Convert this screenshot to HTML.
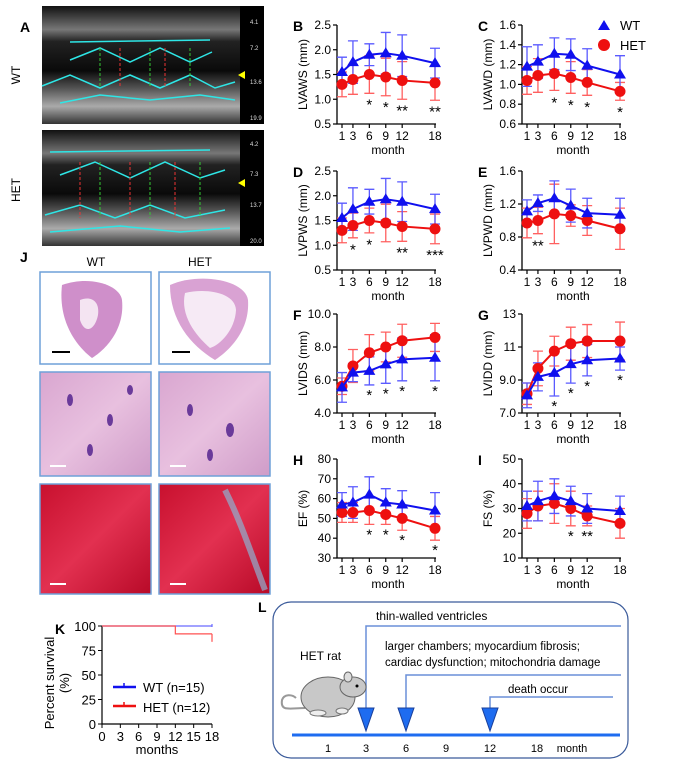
<!DOCTYPE html>
<html><head><meta charset="utf-8">
<style>
html,body{margin:0;padding:0;background:#fff;}
body{width:697px;height:779px;overflow:hidden;position:relative;font-family:"Liberation Sans",Arial,sans-serif;}
svg{position:absolute;left:0;top:0;}
</style></head>
<body>
<svg id="fig" width="697" height="779" viewBox="0 0 697 779" font-family="Liberation Sans, Arial, sans-serif">
  <defs>
    <linearGradient id="echo" x1="0" y1="0" x2="0" y2="1">
      <stop offset="0" stop-color="#111"/><stop offset="0.2" stop-color="#777"/><stop offset="0.3" stop-color="#222"/>
      <stop offset="0.55" stop-color="#0a0a0a"/><stop offset="0.7" stop-color="#555"/><stop offset="0.85" stop-color="#aaa"/><stop offset="1" stop-color="#333"/>
    </linearGradient>
    <linearGradient id="he" x1="0" y1="0" x2="1" y2="1">
      <stop offset="0" stop-color="#d9a6d0"/><stop offset="0.5" stop-color="#e8c0df"/><stop offset="1" stop-color="#cf9cc8"/>
    </linearGradient>
    <linearGradient id="mt" x1="0" y1="0" x2="1" y2="1">
      <stop offset="0" stop-color="#c8102e"/><stop offset="0.5" stop-color="#e23050"/><stop offset="1" stop-color="#b80a28"/>
    </linearGradient>
  </defs>

  <!-- Panel A -->
  <text x="20" y="32" font-size="14" font-weight="bold">A</text>
  <g>
    <rect x="42" y="6" width="222" height="118" fill="url(#echo)"/>
    <rect x="240" y="6" width="24" height="118" fill="#000"/>
    <polyline points="42,86 70,75 100,88 130,75 160,88 190,75 215,88 235,82" fill="none" stroke="#2ee6e6" stroke-width="1.5"/>
    <polyline points="70,42 210,40" fill="none" stroke="#2ee6e6" stroke-width="1.5"/>
    <polyline points="70,60 100,48 130,62 160,48 190,62 212,52" fill="none" stroke="#2ee6e6" stroke-width="1.5"/>
    <polyline points="60,103 100,95 150,100 200,95 235,100" fill="none" stroke="#2ee6e6" stroke-width="1.5"/>
    <g stroke-dasharray="3,2" stroke-width="1">
      <line x1="100" y1="48" x2="100" y2="88" stroke="#3c3"/><line x1="120" y1="48" x2="120" y2="88" stroke="#e33"/>
      <line x1="150" y1="48" x2="150" y2="88" stroke="#3c3"/><line x1="165" y1="48" x2="165" y2="88" stroke="#e33"/>
      <line x1="190" y1="48" x2="190" y2="88" stroke="#3c3"/>
    </g>
    <text x="250" y="24" font-size="6" fill="#ddd">4.1</text><text x="250" y="50" font-size="6" fill="#ddd">7.2</text>
    <text x="250" y="84" font-size="6" fill="#ddd">13.6</text><text x="250" y="120" font-size="6" fill="#ddd">19.9</text>
    <polygon points="238,75 245,71 245,79" fill="#ff0"/>
  </g>
  <text transform="translate(20,75) rotate(-90)" font-size="12" text-anchor="middle">WT</text>
  <g>
    <rect x="42" y="130" width="222" height="116" fill="url(#echo)"/>
    <rect x="240" y="130" width="24" height="116" fill="#000"/>
    <polyline points="50,152 210,150" fill="none" stroke="#2ee6e6" stroke-width="1.5"/>
    <polyline points="60,175 95,162 130,178 165,162 200,178 225,170" fill="none" stroke="#2ee6e6" stroke-width="1.5"/>
    <polyline points="45,215 80,205 115,218 150,205 185,218 225,210" fill="none" stroke="#2ee6e6" stroke-width="1.5"/>
    <polyline points="50,232 120,226 180,232 230,228" fill="none" stroke="#2ee6e6" stroke-width="1.5"/>
    <g stroke-dasharray="3,2" stroke-width="1">
      <line x1="80" y1="162" x2="80" y2="218" stroke="#e33"/><line x1="100" y1="162" x2="100" y2="218" stroke="#3c3"/>
      <line x1="130" y1="162" x2="130" y2="218" stroke="#e33"/><line x1="150" y1="162" x2="150" y2="218" stroke="#3c3"/>
      <line x1="175" y1="162" x2="175" y2="218" stroke="#e33"/><line x1="200" y1="162" x2="200" y2="218" stroke="#3c3"/>
    </g>
    <text x="250" y="146" font-size="6" fill="#ddd">4.2</text><text x="250" y="176" font-size="6" fill="#ddd">7.3</text>
    <text x="250" y="207" font-size="6" fill="#ddd">13.7</text><text x="250" y="243" font-size="6" fill="#ddd">20.0</text>
    <polygon points="238,183 245,179 245,187" fill="#ff0"/>
  </g>
  <text transform="translate(20,190) rotate(-90)" font-size="12" text-anchor="middle">HET</text>

  <!-- Panel J -->
  <text x="20" y="262" font-size="14" font-weight="bold">J</text>
  <text x="96" y="266" font-size="12" text-anchor="middle">WT</text>
  <text x="200" y="266" font-size="12" text-anchor="middle">HET</text>
  <g>
    <rect x="40" y="272" width="111" height="92" fill="#fff" stroke="#6fa0d8" stroke-width="1.5"/>
    <path d="M62,285 C90,275 120,285 122,300 C125,330 105,350 92,358 C75,345 58,320 62,285Z" fill="#cf8fca"/>
    <path d="M80,300 C90,296 100,300 98,315 C95,330 85,335 80,320Z" fill="#f4e4f2"/>
    <line x1="52" y1="352" x2="70" y2="352" stroke="#000" stroke-width="2"/>
  </g>
  <g>
    <rect x="159" y="272" width="111" height="92" fill="#fff" stroke="#6fa0d8" stroke-width="1.5"/>
    <path d="M170,285 C200,272 245,280 248,300 C250,330 230,350 215,360 C190,345 170,320 170,285Z" fill="#d9a2d3"/>
    <path d="M185,293 C205,288 235,292 236,310 C235,330 220,345 210,348 C195,335 180,315 185,293Z" fill="#f6eaf5"/>
    <line x1="172" y1="352" x2="190" y2="352" stroke="#000" stroke-width="2"/>
  </g>
  <g>
    <rect x="40" y="372" width="111" height="104" fill="url(#he)" stroke="#6fa0d8" stroke-width="1.5"/>
    <g fill="#6a3a9a"><ellipse cx="70" cy="400" rx="3" ry="6"/><ellipse cx="110" cy="420" rx="3" ry="6"/><ellipse cx="90" cy="450" rx="3" ry="6"/><ellipse cx="130" cy="390" rx="3" ry="5"/></g>
    <line x1="50" y1="466" x2="66" y2="466" stroke="#fff" stroke-width="2"/>
  </g>
  <g>
    <rect x="159" y="372" width="111" height="104" fill="url(#he)" stroke="#6fa0d8" stroke-width="1.5"/>
    <g fill="#6a3a9a"><ellipse cx="190" cy="410" rx="3" ry="6"/><ellipse cx="230" cy="430" rx="4" ry="7"/><ellipse cx="210" cy="455" rx="3" ry="6"/></g>
    <line x1="170" y1="466" x2="186" y2="466" stroke="#fff" stroke-width="2"/>
  </g>
  <g>
    <rect x="40" y="484" width="111" height="110" fill="url(#mt)" stroke="#6fa0d8" stroke-width="1.5"/>
    <line x1="50" y1="584" x2="66" y2="584" stroke="#fff" stroke-width="2"/>
  </g>
  <g>
    <rect x="159" y="484" width="111" height="110" fill="url(#mt)" stroke="#6fa0d8" stroke-width="1.5"/>
    <path d="M225,490 C240,520 250,550 265,590" stroke="#8fb0d0" stroke-width="6" fill="none" opacity="0.7"/>
    <line x1="170" y1="584" x2="186" y2="584" stroke="#fff" stroke-width="2"/>
  </g>

  <!-- Legend -->
  <g>
    <polygon points="604,20 598,30 610,30" fill="#1010ee"/>
    <text x="620" y="30" font-size="13">WT</text>
    <circle cx="604" cy="45" r="6" fill="#ee1010"/>
    <text x="620" y="50" font-size="13">HET</text>
  </g>

  <g id="charts"></g>

  <!-- Panel K -->
  <text x="55" y="634" font-size="14" font-weight="bold">K</text>
  <g id="survival"></g>

  <!-- Panel L -->
  <text x="258" y="612" font-size="14" font-weight="bold">L</text>
  <g>
    <rect x="273" y="602" width="355" height="156" rx="18" fill="#fff" stroke="#3a5a9a" stroke-width="1.2"/>
    <text x="376" y="620" font-size="12">thin-walled ventricles</text>
    <polyline points="621,626 366,626 366,708" fill="none" stroke="#6a8fd8" stroke-width="1.5"/>
    <text x="385" y="650" font-size="11.5">larger chambers;  myocardium fibrosis;</text>
    <text x="385" y="666" font-size="11.5">cardiac dysfunction;  mitochondria damage</text>
    <polyline points="621,675 406,675 406,708" fill="none" stroke="#6a8fd8" stroke-width="1.5"/>
    <text x="508" y="693" font-size="11.5">death  occur</text>
    <polyline points="613,697 490,697 490,708" fill="none" stroke="#6a8fd8" stroke-width="1.5"/>
    <polygon points="358,708 374,708 366,731" fill="#1e6cf0" stroke="#1a3f9a"/>
    <polygon points="398,708 414,708 406,731" fill="#1e6cf0" stroke="#1a3f9a"/>
    <polygon points="482,708 498,708 490,731" fill="#1e6cf0" stroke="#1a3f9a"/>
    <line x1="292" y1="735" x2="620" y2="735" stroke="#1e6cf0" stroke-width="3"/>
    <g font-size="11" text-anchor="middle">
      <text x="328" y="752">1</text><text x="366" y="752">3</text><text x="406" y="752">6</text>
      <text x="446" y="752">9</text><text x="490" y="752">12</text><text x="537" y="752">18</text><text x="572" y="752">month</text>
    </g>
    <text x="300" y="660" font-size="12">HET rat</text>
    <g>
      <path d="M305,708 C290,708 280,712 282,700 C284,694 292,694 296,698" fill="none" stroke="#999" stroke-width="2"/>
      <ellipse cx="328" cy="697" rx="27" ry="20" fill="#c8c8c8" stroke="#666"/>
      <ellipse cx="353" cy="687" rx="13" ry="10" fill="#c8c8c8" stroke="#666"/>
      <ellipse cx="348" cy="677" rx="4" ry="5" fill="#ddd" stroke="#666"/>
      <circle cx="357" cy="686" r="1.5" fill="#000"/>
      <ellipse cx="318" cy="713" rx="8" ry="3" fill="#eee" stroke="#777"/>
      <ellipse cx="342" cy="711" rx="6" ry="3" fill="#eee" stroke="#777"/>
    </g>
  </g>
</svg>

<script>
// ---- chart data (month x-positions) ----
const months = [1, 3, 6, 9, 12, 18];

const lvawsWT = [1.55, 1.75, 1.90, 1.93, 1.88, 1.73];
const lvawsWTErr = [0.30, 0.43, 0.22, 0.42, 0.42, 0.30];
const lvawsHET = [1.30, 1.40, 1.50, 1.45, 1.38, 1.33];
const lvawsHETErr = [0.25, 0.30, 0.38, 0.38, 0.38, 0.35];
const lvawsStars = ["", "", "*", "*", "**", "**"];
const lvawsTicks = ["0.5", "1.0", "1.5", "2.0", "2.5"];

const lvawdWT = [1.18, 1.23, 1.31, 1.30, 1.19, 1.10];
const lvawdWTErr = [0.20, 0.17, 0.16, 0.16, 0.17, 0.19];
const lvawdHET = [1.04, 1.09, 1.11, 1.07, 1.02, 0.93];
const lvawdHETErr = [0.14, 0.17, 0.17, 0.16, 0.13, 0.09];
const lvawdStars = ["", "", "*", "*", "*", "*"];
const lvawdTicks = ["0.6", "0.8", "1.0", "1.2", "1.4", "1.6"];

const lvpwsWT = [1.55, 1.73, 1.88, 1.93, 1.88, 1.73];
const lvpwsWTErr = [0.30, 0.43, 0.25, 0.42, 0.40, 0.30];
const lvpwsHET = [1.30, 1.40, 1.50, 1.45, 1.38, 1.33];
const lvpwsHETErr = [0.25, 0.25, 0.25, 0.38, 0.30, 0.30];
const lvpwsStars = ["", "*", "*", "", "**", "***"];
const lvpwsTicks = ["0.5", "1.0", "1.5", "2.0", "2.5"];

const lvpwdWT = [1.11, 1.21, 1.27, 1.18, 1.09, 1.07];
const lvpwdWTErr = [0.14, 0.10, 0.21, 0.20, 0.18, 0.20];
const lvpwdHET = [0.97, 1.00, 1.08, 1.06, 1.00, 0.90];
const lvpwdHETErr = [0.18, 0.16, 0.36, 0.13, 0.18, 0.25];
const lvpwdStars = ["", "**", "", "", "", ""];
const lvpwdTicks = ["0.4", "0.8", "1.2", "1.6"];

const lvidsWT = [5.55, 6.45, 6.55, 6.95, 7.25, 7.35];
const lvidsWTErr = [0.90, 0.55, 0.85, 1.15, 1.30, 1.40];
const lvidsHET = [5.62, 6.85, 7.65, 8.00, 8.38, 8.58];
const lvidsHETErr = [0.50, 1.00, 1.10, 0.90, 1.00, 0.85];
const lvidsStars = ["", "", "*", "*", "*", "*"];
const lvidsTicks = ["4.0", "6.0", "8.0", "10.0"];

const lviddWT = [8.07, 9.19, 9.43, 9.96, 10.20, 10.30];
const lviddWTErr = [0.75, 0.85, 1.40, 1.15, 0.95, 0.70];
const lviddHET = [8.17, 9.70, 10.75, 11.20, 11.36, 11.36];
const lviddHETErr = [0.65, 1.05, 0.90, 1.00, 1.00, 1.15];
const lviddStars = ["", "", "*", "*", "*", "*"];
const lviddTicks = ["7.0", "9.0", "11", "13"];

const efWT = [57, 58, 62, 58, 57, 54];
const efWTErr = [6, 8, 9, 7, 7, 9];
const efHET = [53, 53, 54, 52, 50, 45];
const efHETErr = [5, 5, 7, 5, 6, 6];
const efStars = ["", "", "*", "*", "*", "*"];
const efTicks = ["30", "40", "50", "60", "70", "80"];

const fsWT = [31, 33, 35, 33, 30, 29];
const fsWTErr = [6, 8, 7, 6, 6, 6];
const fsHET = [28, 31, 32, 30, 27, 24];
const fsHETErr = [6, 6, 8, 7, 4, 6];
const fsStars = ["", "", "", "*", "**", ""];
const fsTicks = ["10", "20", "30", "40", "50"];

// survival
const survMonths = [0, 12, 12, 18];
const survWT = [100, 100, 100, 100];
const survHET = [100, 100, 92, 92];
const survXTicks = ["0", "3", "6", "9", "12", "15", "18"];
const survYTicks = ["0", "25", "50", "75", "100"];

const NS = "http://www.w3.org/2000/svg";
function mk(tag, attrs, parent) {
  const e = document.createElementNS(NS, tag);
  for (const k in attrs) e.setAttribute(k, attrs[k]);
  if (parent) parent.appendChild(e);
  return e;
}

const panels = [
  {id:"b", letter:"B", label:"LVAWS (mm)", ax:337, top:25, min:0.5, max:2.5, ticks:lvawsTicks, wt:lvawsWT, wte:lvawsWTErr, het:lvawsHET, hete:lvawsHETErr, stars:lvawsStars, starGap:0.13},
  {id:"c", letter:"C", label:"LVAWD (mm)", ax:522, top:25, min:0.6, max:1.6, ticks:lvawdTicks, wt:lvawdWT, wte:lvawdWTErr, het:lvawdHET, hete:lvawdHETErr, stars:lvawdStars, starGap:0.07},
  {id:"d", letter:"D", label:"LVPWS (mm)", ax:337, top:171, min:0.5, max:2.5, ticks:lvpwsTicks, wt:lvpwsWT, wte:lvpwsWTErr, het:lvpwsHET, hete:lvpwsHETErr, stars:lvpwsStars, starGap:0.13},
  {id:"e", letter:"E", label:"LVPWD (mm)", ax:522, top:171, min:0.4, max:1.6, ticks:lvpwdTicks, wt:lvpwdWT, wte:lvpwdWTErr, het:lvpwdHET, hete:lvpwdHETErr, stars:lvpwdStars, starGap:0.08},
  {id:"f", letter:"F", label:"LVIDS (mm)", ax:337, top:314, min:4, max:10, ticks:lvidsTicks, wt:lvidsWT, wte:lvidsWTErr, het:lvidsHET, hete:lvidsHETErr, stars:lvidsStars, starGap:0.3},
  {id:"g", letter:"G", label:"LVIDD (mm)", ax:522, top:314, min:7, max:13, ticks:lviddTicks, wt:lviddWT, wte:lviddWTErr, het:lviddHET, hete:lviddHETErr, stars:lviddStars, starGap:0.3},
  {id:"h", letter:"H", label:"EF (%)", ax:337, top:459, min:30, max:80, ticks:efTicks, wt:efWT, wte:efWTErr, het:efHET, hete:efHETErr, stars:efStars, starGap:2.5},
  {id:"i", letter:"I", label:"FS (%)", ax:522, top:459, min:10, max:50, ticks:fsTicks, wt:fsWT, wte:fsWTErr, het:fsHET, hete:fsHETErr, stars:fsStars, starGap:2}
];

const charts = document.getElementById("charts");
const H = 99;
panels.forEach(p => {
  const g = mk("g", {}, charts);
  
  
  const x = m => p.ax + 5 + (m - 1) * (93 / 17);
  const y = v => p.top + H - (v - p.min) / (p.max - p.min) * H;
  const bottom = p.top + H;
  const L = mk("text", {x: p.ax - 44, y: p.top + 6, "font-size": 14, "font-weight": "bold"}, g);
  L.textContent = p.letter;
  
  
  const ax = mk("path", {d: `M${p.ax},${p.top} V${bottom} H${x(18) + 1}`, stroke: "#000", fill: "none", "stroke-width": 1.3}, g);
  
  
  p.ticks.forEach(t => {
    const yy = y(parseFloat(t));
    mk("line", {x1: p.ax - 4, x2: p.ax, y1: yy, y2: yy, stroke: "#000", "stroke-width": 1.2}, g);
    const tt = mk("text", {x: p.ax - 6, y: yy + 4, "font-size": 12, "text-anchor": "end"}, g);
    tt.textContent = t;
    
    
  });
  months.forEach(m => {
    mk("line", {x1: x(m), x2: x(m), y1: bottom, y2: bottom + 4, stroke: "#000", "stroke-width": 1.2}, g);
    const tt = mk("text", {x: x(m), y: bottom + 16, "font-size": 12, "text-anchor": "middle"}, g);
    tt.textContent = m;
    
    
  });
  const xt = mk("text", {x: (p.ax + x(18)) / 2 + 2, y: bottom + 30, "font-size": 12, "text-anchor": "middle"}, g);
  xt.textContent = "month";
  
  
  const yt = mk("text", {transform: `translate(${p.ax - 30},${p.top + H / 2}) rotate(-90)`, "font-size": 12, "text-anchor": "middle"}, g);
  yt.textContent = p.label;
  
  

  const series = [
    {name: "het", vals: p.het, err: p.hete, col: "#ee1010", ecol: "#ff6060"},
    {name: "wt", vals: p.wt, err: p.wte, col: "#1010ee", ecol: "#5a5aff"}
  ];
  series.forEach(s => {
    s.vals.forEach((v, i) => {
      const xx = x(months[i]);
      const eb = mk("path", {d: `M${xx},${y(v - s.err[i])} V${y(v + s.err[i])} M${xx - 5},${y(v - s.err[i])} h10 M${xx - 5},${y(v + s.err[i])} h10`, stroke: s.ecol, "stroke-width": 1.3, fill: "none"}, g);
      
      
    });
  });
  series.forEach(s => {
    const pts = s.vals.map((v, i) => x(months[i]) + "," + y(v)).join(" ");
    const ln = mk("polyline", {points: pts, fill: "none", stroke: s.col, "stroke-width": 2}, g);
    
    
    s.vals.forEach((v, i) => {
      const xx = x(months[i]), yy = y(v);
      let mkr;
      if (s.name === "wt") mkr = mk("polygon", {points: `${xx},${yy - 6} ${xx - 6},${yy + 4} ${xx + 6},${yy + 4}`, fill: s.col}, g);
      else mkr = mk("circle", {cx: xx, cy: yy, r: 5.5, fill: s.col}, g);
      
      
    });
  });
  p.stars.forEach((st, i) => {
    if (!st) return;
    const base = Math.min(p.het[i] - p.hete[i], p.wt[i] - p.wte[i]);
    const yy = Math.min(y(base - p.starGap) + 10, bottom - 2);
    const t = mk("text", {x: x(months[i]), y: yy, "font-size": 15, "text-anchor": "middle"}, g);
    t.textContent = st;
    
    
  });
});

// Survival chart
(function(){
  const g = document.getElementById("survival");
  const ax = 102, top = 626, h = 98, w = 110;
  const x = m => ax + m / 18 * w;
  const y = v => top + h - v / 100 * h;
  mk("path", {d: `M${ax},${top} V${top + h} H${ax + w}`, stroke: "#000", fill: "none", "stroke-width": 1.2}, g);
  survYTicks.forEach(t => {
    const yy = y(+t);
    mk("line", {x1: ax - 4, x2: ax, y1: yy, y2: yy, stroke: "#000"}, g);
    const tt = mk("text", {x: ax - 6, y: yy + 5, "font-size": 13, "text-anchor": "end"}, g);
    tt.textContent = t;
    
    
  });
  survXTicks.forEach(t => {
    const xx = x(+t);
    mk("line", {x1: xx, x2: xx, y1: top + h, y2: top + h + 4, stroke: "#000"}, g);
    const tt = mk("text", {x: xx, y: top + h + 17, "font-size": 13, "text-anchor": "middle"}, g);
    tt.textContent = t;
    
    
  });
  const xt = mk("text", {x: ax + w / 2, y: top + h + 30, "font-size": 13, "text-anchor": "middle"}, g);
  xt.textContent = "months";
  
  
  const yt1 = mk("text", {transform: `translate(${ax - 48},${top + h / 2 + 8}) rotate(-90)`, "font-size": 13, "text-anchor": "middle"}, g);
  yt1.textContent = "Percent  survival";
  
  
  const yt2 = mk("text", {transform: `translate(${ax - 33},${top + h / 2 + 8}) rotate(-90)`, "font-size": 13, "text-anchor": "middle"}, g);
  yt2.textContent = "(%)";
  
  
  const lw = mk("polyline", {points: survMonths.map((m, i) => x(m) + "," + y(survWT[i])).join(" "), fill: "none", stroke: "#6a6aff", "stroke-width": 1.2}, g);
  
  
  const lh = mk("polyline", {points: survMonths.map((m, i) => x(m) + "," + y(survHET[i])).join(" "), fill: "none", stroke: "#ff5050", "stroke-width": 1.2}, g);
  
  
  mk("line", {x1: x(18), x2: x(18), y1: y(survHET[3]), y2: y(survHET[3]) + 8, stroke: "#ff5050", "stroke-width": 1.2}, g);
  mk("line", {x1: x(18), x2: x(18), y1: y(100) - 2, y2: y(100) + 1, stroke: "#6a6aff", "stroke-width": 1.2}, g);
  // legend
  mk("line", {x1: 113, x2: 136, y1: 687, y2: 687, stroke: "#1010ee", "stroke-width": 2.5}, g);
  mk("line", {x1: 124, x2: 124, y1: 683, y2: 687, stroke: "#1010ee", "stroke-width": 1.5}, g);
  const l1 = mk("text", {x: 143, y: 692, "font-size": 13}, g);
  l1.textContent = "WT    (n=15)";
  
  
  mk("line", {x1: 113, x2: 136, y1: 706, y2: 706, stroke: "#ee1010", "stroke-width": 2.5}, g);
  mk("line", {x1: 124, x2: 124, y1: 702, y2: 706, stroke: "#ee1010", "stroke-width": 1.5}, g);
  const l2 = mk("text", {x: 143, y: 712, "font-size": 13}, g);
  l2.textContent = "HET   (n=12)";
  
  
})();
</script>
</body></html>
